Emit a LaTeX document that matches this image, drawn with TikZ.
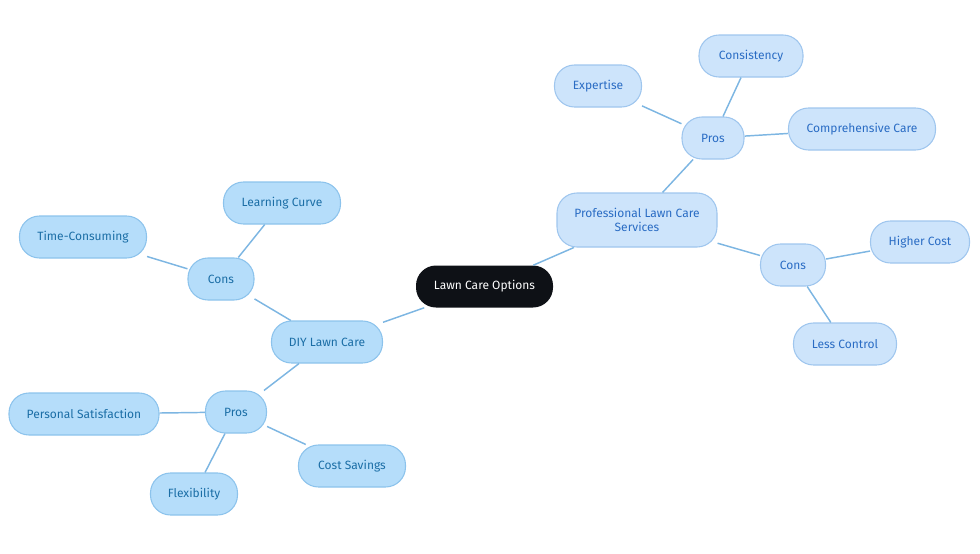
\documentclass[tikz,border=0pt]{standalone}
\usepackage{fontspec}
\setmainfont{Fira Sans}
\definecolor{rootfill}{HTML}{0E1116}
\definecolor{diyfill}{HTML}{B5DDFA}
\definecolor{diyline}{HTML}{8CC3EC}
\definecolor{diytext}{HTML}{1B6EA6}
\definecolor{profill}{HTML}{CDE4FB}
\definecolor{proline}{HTML}{9FC6EE}
\definecolor{protext}{HTML}{2A6CC4}
\definecolor{edgeblue}{HTML}{7DB6E2}
\begin{document}
\begin{tikzpicture}[x=0.75pt, y=-0.75pt,
    every node/.style={font=\fontsize{9}{10.5}\selectfont, rounded corners=15pt, minimum height=31.5pt, inner sep=2pt},
    rootbox/.style={fill=rootfill, text=white},
    diybox/.style={draw=diyline, fill=diyfill, text=diytext, line width=0.8pt},
    probox/.style={draw=proline, fill=profill, text=protext, line width=0.8pt},
    link/.style={draw=edgeblue, line width=1.1pt}]
    \useasboundingbox (0,0) rectangle (980,553);

    % centre
    \node[rootbox, minimum width=102.75pt] (root) at (484.5,286.5) {Lawn Care Options};

    % professional branch
    \node[probox, minimum width=120pt, minimum height=40.5pt, align=center] (pro) at (637,220) {Professional Lawn Care\\Services};
    \node[probox, minimum width=46.5pt] (propros) at (713,138) {Pros};
    \node[probox, minimum width=65.25pt] (expertise) at (598,86) {Expertise};
    \node[probox, minimum width=78pt] (consistency) at (751,56) {Consistency};
    \node[probox, minimum width=110.25pt] (comprehensive) at (862,129) {Comprehensive Care};
    \node[probox, minimum width=48.75pt] (procons) at (793,265) {Cons};
    \node[probox, minimum width=74.25pt] (highercost) at (920,242) {Higher Cost};
    \node[probox, minimum width=77.25pt] (lesscontrol) at (845,344) {Less Control};

    % diy branch
    \node[diybox, minimum width=83.25pt] (diy) at (327,342) {DIY Lawn Care};
    \node[diybox, minimum width=49.5pt] (diycons) at (221,279) {Cons};
    \node[diybox, minimum width=87.75pt] (learning) at (282,203) {Learning Curve};
    \node[diybox, minimum width=95.25pt] (timeconsuming) at (83,237) {Time-Consuming};
    \node[diybox, minimum width=45.75pt] (diypros) at (236,412) {Pros};
    \node[diybox, minimum width=112.5pt] (satisfaction) at (84,414) {Personal Satisfaction};
    \node[diybox, minimum width=80.25pt] (costsavings) at (352,466) {Cost Savings};
    \node[diybox, minimum width=65.25pt] (flexibility) at (194,494) {Flexibility};

    % connectors
    \path[link] (root) -- (pro);
    \path[link] (pro) -- (propros);
    \path[link] (propros) -- (expertise);
    \path[link] (propros) -- (consistency);
    \path[link] (propros) -- (comprehensive);
    \path[link] (pro) -- (procons);
    \path[link] (procons) -- (highercost);
    \path[link] (procons) -- (lesscontrol);
    \path[link] (root) -- (diy);
    \path[link] (diy) -- (diycons);
    \path[link] (diycons) -- (learning);
    \path[link] (diycons) -- (timeconsuming);
    \path[link] (diy) -- (diypros);
    \path[link] (diypros) -- (satisfaction);
    \path[link] (diypros) -- (costsavings);
    \path[link] (diypros) -- (flexibility);
\end{tikzpicture}
\end{document}
